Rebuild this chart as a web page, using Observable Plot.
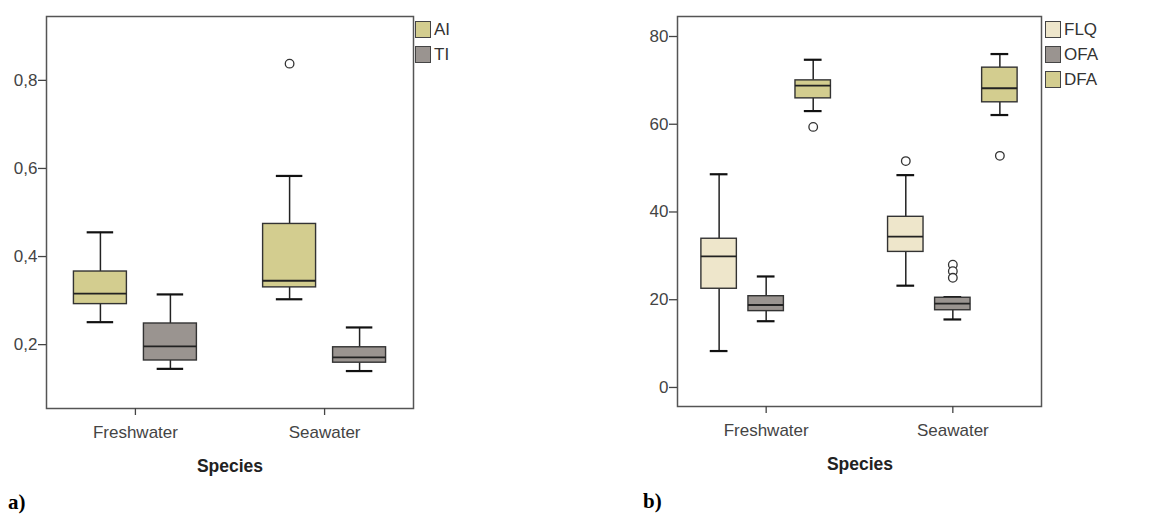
<!DOCTYPE html>
<html>
<head>
<meta charset="utf-8">
<script src="https://cdn.jsdelivr.net/npm/d3@7"></script>
<script src="https://cdn.jsdelivr.net/npm/@observablehq/plot@0.6"></script>
<style>
  body { margin: 0; background: #fff; width: 1162px; height: 516px; position: relative; overflow: hidden; font-family: "Liberation Sans", Arial, sans-serif; }
  .panel { position: absolute; top: 0; }
  .legend { position: absolute; font-family: "Liberation Sans", Arial, sans-serif; font-size: 17px; color: #333; }
  .legend .row { display: flex; align-items: center; height: 25px; }
  .legend .sw { width: 14px; height: 15px; border: 1.5px solid #444; margin-right: 3px; }
  .tag { position: absolute; font-family: "Liberation Serif", "Times New Roman", serif; font-weight: bold; font-size: 21px; color: #000; line-height: 1; }
</style>
</head>
<body>
<div id="pa" class="panel" style="left:0px"></div>
<div id="pb" class="panel" style="left:580px"></div>
<div id="la" class="legend" style="left:415px; top:17px"></div>
<div id="lb" class="legend" style="left:1045px; top:17px"></div>
<div class="tag" style="left:8px; top:492px">a)</div>
<div class="tag" style="left:643px; top:491px">b)</div>
<script>
// ---------- data ----------
const categories = ["Freshwater", "Seawater"];

// Panel a
const seriesA = ["AI", "TI"];
const colorsA = ["#d3cd8f", "#9a9490"];
const minA    = [[0.251, 0.145], [0.303, 0.140]];
const q1A     = [[0.292, 0.164], [0.330, 0.159]];
const medA    = [[0.316, 0.196], [0.345, 0.171]];
const q3A     = [[0.366, 0.248], [0.474, 0.194]];
const maxA    = [[0.455, 0.314], [0.583, 0.239]];
const outA    = [[[], []], [[0.838], []]];
const ticksA  = [0.2, 0.4, 0.6, 0.8];

// Panel b
const seriesB = ["FLQ", "OFA", "DFA"];
const colorsB = ["#eee6cb", "#9a9490", "#d3cd8f"];
const minB    = [[8.3, 15.1, 63.0], [23.2, 15.5, 62.1]];
const q1B     = [[22.5, 17.4, 65.9], [30.9, 17.6, 65.0]];
const medB    = [[29.9, 18.8, 68.8], [34.4, 19.1, 68.2]];
const q3B     = [[33.9, 20.8, 70.0], [38.9, 20.45, 72.9]];
const maxB    = [[48.6, 25.3, 74.7], [48.4, 20.6, 76.0]];
const outB    = [[[], [], [59.4]], [[51.6], [28.0, 26.5, 25.0], [52.8]]];
const ticksB  = [0, 20, 40, 60, 80];

// ---------- helpers ----------
function buildRows(series, mins, q1s, meds, q3s, maxs, outs, spacing, boxW) {
  const rows = [], outliers = [];
  const n = series.length;
  categories.forEach((cat, ci) => {
    series.forEach((s, si) => {
      const pos = ci + (si - (n - 1) / 2) * spacing;
      rows.push({cat, series: s, pos, left: pos - boxW / 2, right: pos + boxW / 2,
        capL: pos - boxW / 4, capR: pos + boxW / 4,
        min: mins[ci][si], q1: q1s[ci][si], med: meds[ci][si], q3: q3s[ci][si], max: maxs[ci][si]});
      outs[ci][si].forEach(v => outliers.push({pos, value: v}));
    });
  });
  return {rows, outliers};
}

function boxPlot({rows, outliers}, series, colors, yDomain, xDomain, ticks, fmt, margins, width, height) {
  return Plot.plot({
    width, height,
    marginLeft: margins[0], marginRight: margins[1], marginTop: margins[2], marginBottom: margins[3],
    style: {fontFamily: "'Liberation Sans', Arial, sans-serif", fontSize: "17px", color: "#444", background: "transparent"},
    x: {type: "linear", domain: xDomain},
    y: {domain: yDomain},
    color: {domain: series, range: colors},
    marks: [
      Plot.frame({stroke: "#555", strokeWidth: 1.5}),
      Plot.axisY({ticks, tickFormat: fmt, tickSize: 8, tickPadding: 1, label: null, fontSize: 17, stroke: "#444", strokeWidth: 1.3}),
      Plot.axisX({ticks: [0, 1], tickFormat: i => categories[i], tickSize: 7, tickPadding: 10, fontSize: 17,
        stroke: "#444", strokeWidth: 1.3, label: null}),
      Plot.ruleX(rows, {x: "pos", y1: "q3", y2: "max", stroke: "#222", strokeWidth: 1.5}),
      Plot.ruleX(rows, {x: "pos", y1: "min", y2: "q1", stroke: "#222", strokeWidth: 1.5}),
      Plot.ruleY(rows, {x1: "capL", x2: "capR", y: "max", stroke: "#111", strokeWidth: 2.2}),
      Plot.ruleY(rows, {x1: "capL", x2: "capR", y: "min", stroke: "#111", strokeWidth: 2.2}),
      Plot.rect(rows, {x1: "left", x2: "right", y1: "q1", y2: "q3", fill: "series", stroke: "#333", strokeWidth: 1.4}),
      Plot.ruleY(rows, {x1: "left", x2: "right", y: "med", stroke: "#222", strokeWidth: 1.8}),
      Plot.dot(outliers, {x: "pos", y: "value", r: 4.3, stroke: "#333", strokeWidth: 1.3, fill: "white"})
    ]
  });
}

function legend(el, series, colors) {
  series.forEach((s, i) => {
    const row = document.createElement("div");
    row.className = "row";
    const sw = document.createElement("div");
    sw.className = "sw";
    sw.style.background = colors[i];
    const t = document.createElement("span");
    t.textContent = s;
    row.appendChild(sw); row.appendChild(t);
    el.appendChild(row);
  });
}

function addTitle(svg, text, x, y) {
  d3.select(svg).append("text")
    .attr("x", x).attr("y", y)
    .attr("text-anchor", "middle")
    .attr("font-family", "'Liberation Sans', Arial, sans-serif")
    .attr("font-weight", "bold").attr("font-size", 17.5).attr("fill", "#222")
    .text(text);
}

const commaFmt = d => d3.format(".1f")(d).replace(".", ",");

// Panel a
const dataA = buildRows(seriesA, minA, q1A, medA, q3A, maxA, outA, 0.37, 0.28);
const svgA = boxPlot(dataA, seriesA, colorsA, [0.055, 0.945], [-0.47, 1.47], ticksA, commaFmt,
  [46, 167, 16, 72], 580, 480);
addTitle(svgA, "Species", 230, 472);
document.getElementById("pa").appendChild(svgA);
legend(document.getElementById("la"), seriesA, colorsA);

// Panel b
const dataB = buildRows(seriesB, minB, q1B, medB, q3B, maxB, outB, 0.252, 0.19);
const svgB = boxPlot(dataB, seriesB, colorsB, [-4.34, 84.56], [-0.475, 1.475], ticksB, d => String(d),
  [97, 119, 16, 74], 580, 480);
addTitle(svgB, "Species", 280, 470);
document.getElementById("pb").appendChild(svgB);
legend(document.getElementById("lb"), seriesB, colorsB);
</script>
</body>
</html>
